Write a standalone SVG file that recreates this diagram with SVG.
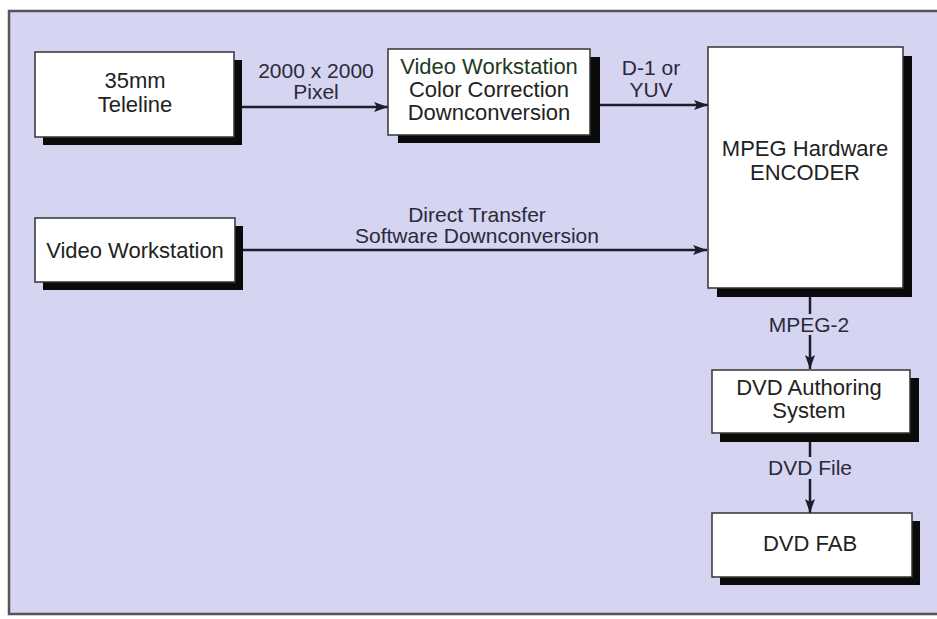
<svg xmlns="http://www.w3.org/2000/svg" width="937" height="619" viewBox="0 0 937 619">
<style>
  .t { font-family: "Liberation Sans", Arial, sans-serif; font-size: 22px; fill: #222; text-anchor: middle; }
  .lbl { font-family: "Liberation Sans", Arial, sans-serif; font-size: 21px; fill: #2a2a3a; text-anchor: middle; }
  .box { fill: #ffffff; stroke: #333; stroke-width: 1.5; }
  .sh { fill: #0a0a0a; }
  .ln { stroke: #1c1c2a; stroke-width: 2.5; fill: none; }
</style>
<defs>
  <marker id="ah" viewBox="0 0 14 10" refX="14" refY="5" markerWidth="14" markerHeight="10" markerUnits="userSpaceOnUse" orient="auto">
    <path d="M0,0 L14,5 L0,10 L3,5 Z" fill="#1c1c2a"/>
  </marker>
</defs>
<rect x="0" y="0" width="937" height="619" fill="#ffffff"/>
<rect x="9" y="11" width="940" height="603" fill="#d5d4f1"/>
<path d="M940,11 L9,11 L9,614 L940,614" fill="none" stroke="#555" stroke-width="2.5"/>

<g id="connectors">
  <line class="ln" x1="242" y1="107" x2="388" y2="107" marker-end="url(#ah)"/>
  <text class="lbl" x="316" y="78">2000 x 2000</text>
  <text class="lbl" x="316" y="99">Pixel</text>
  <line class="ln" x1="600" y1="105" x2="708" y2="105" marker-end="url(#ah)"/>
  <text class="lbl" x="651" y="75">D-1 or</text>
  <text class="lbl" x="651" y="97">YUV</text>
  <line class="ln" x1="243" y1="250" x2="707" y2="250" marker-end="url(#ah)"/>
  <text class="lbl" x="477" y="222">Direct Transfer</text>
  <text class="lbl" x="477" y="243">Software Downconversion</text>
  <line class="ln" x1="810" y1="297" x2="810" y2="314"/>
  <line class="ln" x1="810" y1="335" x2="810" y2="369" marker-end="url(#ah)"/>
  <text class="lbl" x="809" y="332">MPEG-2</text>
  <line class="ln" x1="810" y1="442" x2="810" y2="457"/>
  <line class="ln" x1="810" y1="479" x2="810" y2="513" marker-end="url(#ah)"/>
  <text class="lbl" x="810" y="475">DVD File</text>
</g>

<g id="teleline">
  <rect class="sh" x="43" y="60" width="199" height="85"/>
  <rect class="box" x="35" y="52" width="199" height="85"/>
  <text class="t" x="135" y="88">35mm</text>
  <text class="t" x="135" y="112">Teleline</text>
</g>

<g id="workstation-cc">
  <rect class="sh" x="398" y="57" width="202" height="86"/>
  <rect class="box" x="388" y="49" width="202" height="86"/>
  <text class="t" x="489" y="74" style="fill:#1d3a22">Video Workstation</text>
  <text class="t" x="489" y="97">Color Correction</text>
  <text class="t" x="489" y="120">Downconversion</text>
</g>

<g id="encoder">
  <rect class="sh" x="717" y="56" width="195" height="241"/>
  <rect class="box" x="708" y="47" width="195" height="241"/>
  <text class="t" x="805" y="156">MPEG Hardware</text>
  <text class="t" x="805" y="180">ENCODER</text>
</g>

<g id="video-workstation">
  <rect class="sh" x="43" y="226" width="200" height="64"/>
  <rect class="box" x="35" y="218" width="200" height="64"/>
  <text class="t" x="135" y="258">Video Workstation</text>
</g>

<g id="authoring">
  <rect class="sh" x="720" y="378" width="199" height="64"/>
  <rect class="box" x="712" y="370" width="198" height="63"/>
  <text class="t" x="809" y="395">DVD Authoring</text>
  <text class="t" x="809" y="418">System</text>
</g>

<g id="fab">
  <rect class="sh" x="720" y="521" width="200" height="64"/>
  <rect class="box" x="712" y="513" width="200" height="64"/>
  <text class="t" x="810" y="551">DVD FAB</text>
</g>
</svg>
